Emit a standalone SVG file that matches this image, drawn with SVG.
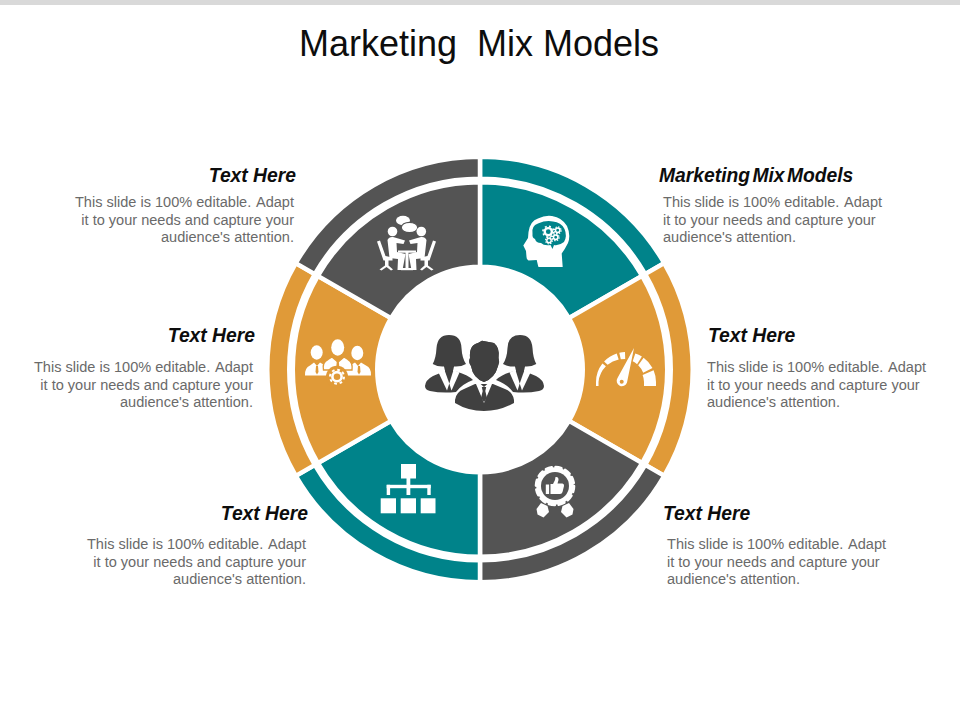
<svg xmlns="http://www.w3.org/2000/svg" width="960" height="720" viewBox="0 0 960 720">
<style>
text{font-family:"Liberation Sans",Arial,sans-serif;white-space:pre}
.title{font-size:36px;fill:#0d0d0d}
.h{font-size:19.3px;font-weight:bold;font-style:italic;fill:#0d0d0d}
.b{font-size:14.55px;fill:#6a6a6a}
.e{text-anchor:end}
.seg{stroke:#fff;stroke-width:4.5;stroke-linejoin:miter}
.teal{fill:#00838a}.gray{fill:#545454}.orange{fill:#e09a38}
.w{fill:#fff}
.dk{fill:#404040}
</style>
<defs>
<g id="gearT"><circle r="2.2" fill="none" stroke="#fff" stroke-width="1.5"/><circle r="3.4" fill="none" stroke="#fff" stroke-width="1.2" stroke-dasharray="1.4 1.27"/></g>
</defs>
<rect x="0" y="0" width="960" height="5" fill="#d9d9d9"/>
<text class="title" x="299" y="56">Marketing  Mix Models</text>

<g id="node-top-right">
<path class="seg teal" d="M480 156.75A212.75 212.75 0 0 1 664.25 263.125L645.19 274.125A190.75 190.75 0 0 0 480 178.75Z"/>
<path class="seg teal" d="M480 182.25A187.25 187.25 0 0 1 642.16 275.875L568.98 318.125A102.75 102.75 0 0 0 480 266.75Z"/>
<path class="w" d="M539 267L538.3 266.7L536.7 260L528.5 260.5Q526.5 260 526.5 257L526 251L523.3 245.5L528 238L528.5 232Q530 221 538 218.5Q545 215 552 216Q562 217.5 567 226Q571 235 568 243Q565 249 561.7 253.5L562.7 267Z"/>
<path class="teal" d="M532.5 234Q531 226 538 223.5Q546 220 553 221.5Q561 222 564.5 229Q567.5 236 564 242Q559 246 554 245L552.5 249L550.5 245Q544 246 541 243Q536 243 535 239Q532 238 532.5 234Z"/>
<circle cx="548.3" cy="231.7" r="3.6" fill="none" stroke="#fff" stroke-width="2.4"/>
<circle cx="548.3" cy="231.7" r="5.4" fill="none" stroke="#fff" stroke-width="1.6" stroke-dasharray="2 2.24"/>
<use href="#gearT" x="557.7" y="230.3"/>
<use href="#gearT" x="555.7" y="237.3"/>
<use href="#gearT" x="549" y="240.5"/>
<text class="h" x="659" y="181.5" word-spacing="-3">Marketing Mix Models</text>
<text class="b" x="663" y="206.5">This slide is 100% editable. <tspan dx="1.5">Adapt</tspan></text>
<text class="b" x="663" y="224.5">it to your needs and capture your</text>
<text class="b" x="663" y="241.5">audience's attention.</text>
</g>

<g id="node-right">
<path class="seg orange" d="M664.25 263.125A212.75 212.75 0 0 1 664.25 475.875L645.19 464.875A190.75 190.75 0 0 0 645.19 274.125Z"/>
<path class="seg orange" d="M642.16 275.875A187.25 187.25 0 0 1 642.16 463.125L568.98 420.875A102.75 102.75 0 0 0 568.98 318.125Z"/>
<g class="w">
<path d="M596 386L596 382A30 30 0 0 1 602.4 363.5L605.9 366.3A26 26 0 0 0 598.5 382L598.5 386Z"/>
<path d="M604.1 361.5A30 30 0 0 1 616.7 353.5L618.7 359.5A24 24 0 0 0 607.6 364.8Z"/>
<path d="M619.3 352.8A30 30 0 0 1 625 352L625.2 359L620.8 359.3Z"/>
<path d="M635.3 353.5A30 30 0 0 1 641.9 356.6L637.1 364.2A21 21 0 0 0 632.7 361.3Z"/>
<path d="M643.6 357.7A30 30 0 0 1 652.5 367.9L643.2 372.8A20 20 0 0 0 638.2 365.2Z"/>
<path d="M653.6 370.3A30 30 0 0 1 656 382L656 386L644 386L644 382A18 18 0 0 0 642.6 375Z"/>
<path d="M634 348L617.5 378A5.3 5.3 0 1 0 627 382.5Z"/>
</g>
<circle class="orange" cx="621.7" cy="381.7" r="2"/>
<text class="h" x="708" y="341.5">Text Here</text>
<text class="b" x="707" y="371.5">This slide is 100% editable. <tspan dx="1.5">Adapt</tspan></text>
<text class="b" x="707" y="389.5">it to your needs and capture your</text>
<text class="b" x="707" y="406.5">audience's attention.</text>
</g>

<g id="node-bottom-right">
<path class="seg gray" d="M664.25 475.875A212.75 212.75 0 0 1 480 582.25L480 560.25A190.75 190.75 0 0 0 645.19 464.875Z"/>
<path class="seg gray" d="M642.16 463.125A187.25 187.25 0 0 1 480 556.75L480 472.25A102.75 102.75 0 0 0 568.98 420.875Z"/>
<circle cx="555" cy="486" r="18.8" fill="#fff"/>
<circle cx="555" cy="486" r="19" fill="none" stroke="#fff" stroke-width="2.6" stroke-linecap="round" stroke-dasharray="6 3.95"/>
<circle class="gray" cx="555" cy="486" r="14"/>
<path class="w" d="M550.5 484L553 484L555 480L555.5 477Q558.7 476.5 558.5 480L557.5 483.5L562.5 483.5Q564.5 484 564 486L562.5 492Q562 494 560 494L550.5 494Z"/>
<rect class="w" x="545.8" y="484.5" width="3.3" height="9.5"/>
<path class="w" d="M541 503L547.5 506L549 512L543.5 517.5L537.5 514.5L536.5 509Z"/>
<path class="w" d="M569 503L562.5 506L561 512L566.5 517.5L572.5 514.5L573.5 509Z"/>
<text class="h" x="663" y="519.5">Text Here</text>
<text class="b" x="667" y="548.5">This slide is 100% editable. <tspan dx="1.5">Adapt</tspan></text>
<text class="b" x="667" y="566.5">it to your needs and capture your</text>
<text class="b" x="667" y="583.5">audience's attention.</text>
</g>

<g id="node-bottom-left">
<path class="seg teal" d="M480 582.25A212.75 212.75 0 0 1 295.75 475.875L314.81 464.875A190.75 190.75 0 0 0 480 560.25Z"/>
<path class="seg teal" d="M480 556.75A187.25 187.25 0 0 1 317.84 463.125L391.02 420.875A102.75 102.75 0 0 0 480 472.25Z"/>
<g class="w">
<rect x="401" y="464" width="15" height="14.5"/>
<rect x="380.7" y="498.3" width="15.3" height="15"/>
<rect x="400.7" y="498.3" width="15.3" height="15"/>
<rect x="420.7" y="498.3" width="14.8" height="15"/>
<rect x="406.5" y="478" width="3.8" height="17"/>
<rect x="386.7" y="484.8" width="44" height="3.4"/>
<rect x="386.7" y="484.8" width="3.4" height="10.2"/>
<rect x="427.3" y="484.8" width="3.4" height="10.2"/>
</g>
<text class="h e" x="308" y="519.5">Text Here</text>
<text class="b e" x="306" y="548.5">This slide is 100% editable. <tspan dx="1.5">Adapt</tspan></text>
<text class="b e" x="306" y="566.5">it to your needs and capture your</text>
<text class="b e" x="306" y="583.5">audience's attention.</text>
</g>

<g id="node-left">
<path class="seg orange" d="M295.75 475.875A212.75 212.75 0 0 1 295.75 263.125L314.81 274.125A190.75 190.75 0 0 0 314.81 464.875Z"/>
<path class="seg orange" d="M317.84 463.125A187.25 187.25 0 0 1 317.84 275.875L391.02 318.125A102.75 102.75 0 0 0 391.02 420.875Z"/>
<g class="w">
<ellipse cx="316.7" cy="352.5" rx="6" ry="7.2"/>
<ellipse cx="357.3" cy="353" rx="6" ry="7.2"/>
<path d="M305 375.5Q304.5 368 310 365.5L314 362.5L317 366L320 362.5L326 366Q330 369 329 375.5Z"/>
<path d="M371 375.5Q371.5 368 366 365.5L361 362.5L358 366L355 362.5L349 366Q345 369 346 375.5Z"/>
<path d="M323.5 370Q322 362 328 359.5L332 357L338 362L344 357L348 359.5Q353 362 352 370Z" stroke="#e09a38" stroke-width="1.4"/>
<ellipse cx="337.7" cy="347.5" rx="6.5" ry="8.2"/>
</g>
<path class="orange" d="M316 366L318 366L318.5 372L317 374.5L315.5 372Z"/>
<path class="orange" d="M358 366L360 366L360.5 372L359 374.5L357.5 372Z"/>
<path class="orange" d="M336.8 361L338.8 361L339.3 367L337.8 369L336.3 367Z"/>
<circle class="orange" cx="337" cy="376.7" r="11"/>
<circle cx="337" cy="376.7" r="4.6" fill="none" stroke="#fff" stroke-width="2.6"/>
<circle cx="337" cy="376.7" r="7" fill="none" stroke="#fff" stroke-width="2" stroke-dasharray="2.75 2.75"/>
<text class="h e" x="255" y="341.5">Text Here</text>
<text class="b e" x="253" y="372">This slide is 100% editable. <tspan dx="1.5">Adapt</tspan></text>
<text class="b e" x="253" y="390">it to your needs and capture your</text>
<text class="b e" x="253" y="407">audience's attention.</text>
</g>

<g id="node-top-left">
<path class="seg gray" d="M295.75 263.125A212.75 212.75 0 0 1 480 156.75L480 178.75A190.75 190.75 0 0 0 314.81 274.125Z"/>
<path class="seg gray" d="M317.84 275.875A187.25 187.25 0 0 1 480 182.25L480 266.75A102.75 102.75 0 0 0 391.02 318.125Z"/>
<g class="w">
<ellipse cx="403" cy="220.5" rx="7" ry="4.7"/>
<ellipse cx="409.5" cy="227.5" rx="8.2" ry="5.2" stroke="#545454" stroke-width="1.2"/>
<circle cx="392.5" cy="231.5" r="4.8"/>
<circle cx="421.3" cy="231.5" r="4.8"/>
<path d="M387.5 240Q389 236.5 393 237L396.5 238L405 240.5L403.5 244L396.5 243L397 252L405.5 254L402.5 270L397.5 270L398 259L389.5 258Z"/>
<path d="M426.5 240Q425 236.5 421 237L417.5 238L409 240.5L410.5 244L417.5 243L417 252L408.5 254L411.5 270L416.5 270L416 259L424.5 258Z"/>
<rect x="398" y="250.5" width="18" height="2.2"/>
<rect x="405.5" y="252" width="3" height="16"/>
<rect x="401" y="268" width="12" height="2.2"/>
<path d="M377 241.5L380 240.5L385.5 256L392.5 257.5L392.5 260.5L388.5 260.5L388.5 265.5L393 269.5L391 270.5L386.5 267L381.5 270.5L379.5 269.5L385 265.5L385 260.5L383.5 260.5Z"/>
<path d="M436 241.5L433 240.5L427.5 256L420.5 257.5L420.5 260.5L424.5 260.5L424.5 265.5L420 269.5L422 270.5L426.5 267L431.5 270.5L433.5 269.5L428 265.5L428 260.5L429.5 260.5Z"/>
</g>
<text class="h e" x="296" y="181.5">Text Here</text>
<text class="b e" x="294" y="206.5">This slide is 100% editable. <tspan dx="1.5">Adapt</tspan></text>
<text class="b e" x="294" y="224.5">it to your needs and capture your</text>
<text class="b e" x="294" y="241.5">audience's attention.</text>
</g>

<g id="node-center">
<path class="dk" d="M449 335Q437.5 335 436.5 348Q436 358 432.7 364Q438 367 444 366.5L445 371L433 376Q425.5 380 425 386Q425 390 430 391Q442 393.5 456 392Q462 384 473 380Q468 375 458 372L453 371L454 366.5Q461 367 466 364Q462 358 461.5 348Q461 335 449 335Z"/>
<path class="w" d="M444.5 370L438.5 372.5L447 390.5L449.3 383.5Z"/>
<path class="w" d="M453.5 370L459.5 372.5L451.5 390.5L449.3 383.5Z"/>
<path class="dk" d="M520 335Q531.5 335 532.5 348Q533 358 536.3 364Q531 367 525 366.5L524 371L536 376Q543.5 380 544 386Q544 390 539 391Q527 393.5 513 392Q507 384 496 380Q501 375 511 372L516 371L515 366.5Q508 367 503 364Q507 358 507.5 348Q508 335 520 335Z"/>
<path class="w" d="M524.5 370L530.5 372.5L522 390.5L519.7 383.5Z"/>
<path class="w" d="M515.5 370L509.5 372.5L517.5 390.5L519.7 383.5Z"/>
<path class="dk" d="M470 358Q469 345 478 343L482 340.7L494 343Q500 348 498.5 358Q500 362 498 366Q495 378 484 382Q473 378 471 366Q468 362 470 358Z" stroke="#fff" stroke-width="2" paint-order="stroke"/>
<path class="dk" d="M455 400Q456 392 464 389L475 384L493 384L505 389Q513 392 514 400L514 403Q500 411 484 411Q468 411 455 403Z" stroke="#fff" stroke-width="2" paint-order="stroke"/>
<path class="dk" d="M470 358Q469 345 478 343L482 340.7L494 343Q500 348 498.5 358Q500 362 498 366Q495 378 484 382Q473 378 471 366Q468 362 470 358Z"/>
<path class="w" d="M476 384L484 403L492 384L488.5 383L484 387L479.5 383Z"/>
<path class="dk" d="M481.8 387L486.2 387L485.3 391L487 398L484 402L481 398L482.7 391Z"/>
</g>
</svg>
